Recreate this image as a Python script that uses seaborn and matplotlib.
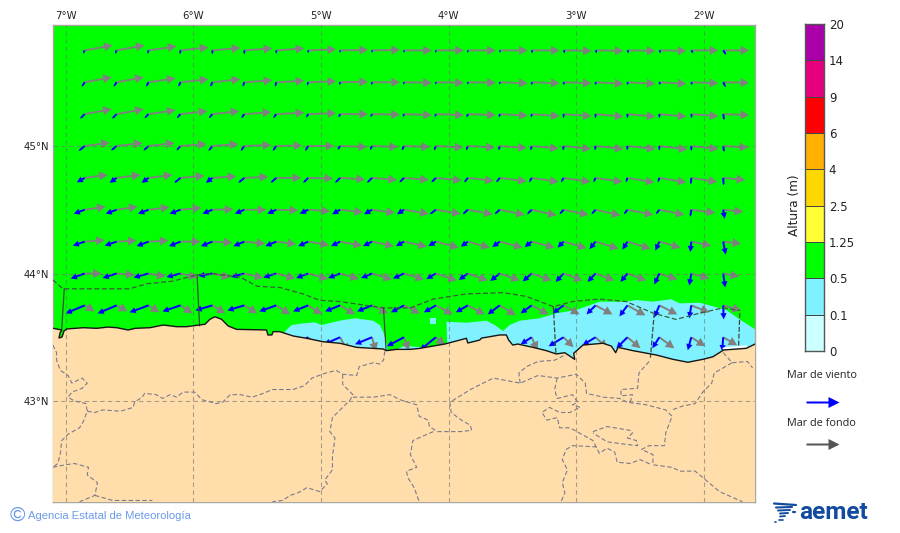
import numpy as np
import pandas as pd
import matplotlib
matplotlib.use('Agg')
import matplotlib.pyplot as plt
from matplotlib.colors import ListedColormap
import seaborn as sns

nan = float('nan')

# grid of the arrows (degrees)
grid_lon = [-6.85, -6.60, -6.35, -6.10, -5.85, -5.60, -5.35, -5.10, -4.85, -4.60, -4.35,
            -4.10, -3.85, -3.60, -3.35, -3.10, -2.85, -2.60, -2.35, -2.10, -1.85]
grid_lat = [45.75, 45.50, 45.25, 45.00, 44.75, 44.50, 44.25, 44.00, 43.75, 43.50]

# mar de fondo, one row per latitude
swell_u = [
    [28, 28, 28, 28, 28, 28, 28, 28, 28, 28, 28, 28, 28, 28, 28, 28, 28, 28, 27, 27, 26],
    [27, 27, 27, 28, 28, 28, 28, 28, 28, 28, 28, 28, 28, 28, 28, 28, 28, 28, 27, 27, 26],
    [27, 27, 27, 27, 27, 27, 28, 28, 28, 28, 28, 28, 28, 28, 28, 28, 28, 28, 27, 27, 26],
    [25, 26, 26, 26, 26, 27, 26, 26, 27, 26, 26, 27.5, 27, 27, 27, 27.5, 28, 28, 28, 27, 25],
    [23, 24, 24, 24, 24, 24, 25, 25, 25, 25, 25, 26, 26, 27, 27, 27, 27, 27, 27, 26, 22],
    [21, 21, 21, 21, 21, 22, 22, 22, 23, 23, 25, 25, 25, 25, 25, 25, 25, 26, 25, 24, 20],
    [20, 20, 20, 20, 20, 21, 20, 21, 22, 22, 23, 23, 22, 23, 23, 23, 23, 23, 21, 20, 18],
    [17, 18, 17, 17, 18, 19, 19, 20, 19, 20, 20, 21, 20, 20, 20, 19, 19, 19, 18, 18, 16],
    [10, 11, 11, 12, 13, 13, 14, 14, 15, 16, 16, 17, 17, 16, 17, 16, 17, 18, 18, 18, 18],
    [nan, nan, nan, nan, nan, nan, nan, 14, 8, 4, 5, 9, nan, nan, 6, 10, 12, 13, 15, 14, 14],
]
swell_v = [
    [5, 5, 4, 3, 2.5, 2, 2, 1, 0.5, 0.5, 0, 0, 0, 0, 0, -0.5, -0.5, -0.5, -0.5, 0, 0],
    [5, 5, 4, 3, 3, 2, 1.5, 1, 0.5, 0, -0.5, -0.5, -0.5, -1, -1, -1, -1.5, -1.5, -1.5, -1, -0.5],
    [5, 5, 4, 3, 3, 2, 1.5, 1, 0, -0.5, -1, -1, -1, -1.5, -2, -2, -2.5, -2.5, -2.5, -2, -1],
    [3.3, 3, 3, 2, 2, 1, 0.5, 0, -1, -1, -1, -1.5, -1.5, -2, -2.5, -3, -3, -3, -3.5, -3, -1.5],
    [3, 3, 3, 2, 1.5, 1, 0, -0.5, -1.5, -2, -2, -2.5, -3, -3.5, -4, -4, -4, -4.5, -4.5, -4, -2],
    [3, 3, 2.5, 2, 0.5, 0, -0.5, -1.5, -2.5, -3, -4, -4, -4.5, -5, -5.5, -5, -5.5, -5, -5, -3, -2],
    [1.5, 1, 1, 0, -1, -2, -2.5, -3.5, -4, -4.5, -5, -6, -6, -6, -6, -6.5, -7, -7, -6, -4, -2],
    [0, -1.5, -3, -4, -4, -4.5, -5, -5.5, -5.5, -6, -6, -7, -7, -7, -7, -7, -7, -7, -6, -5, -3],
    [-6, -6, -7, -8, -8, -8, -9, -9, -9, -8, -8, -9, -9, -10, -9, -9, -9, -10, -9, -7, -5],
    [nan, nan, nan, nan, nan, nan, nan, -13, -15, -14, -13, -8, nan, nan, -13, -10, -11, -11, -11, -9, -8],
]

# mar de viento
wind_u = [
    [-1.7, -1.5, -1, -0.5, 0, 0, 0, 0, 0, 0, 0, -0.3, 0, 0.5, 1, 1.5, 1.5, 1.5, 1.5, 2, 3],
    [-3, -3, -2.5, -2, -2, -1.5, -1, -1, -0.5, -0.5, -0.5, -0.3, 0, 0, 0.3, 0.5, 0.5, 0.5, 1, 1, 2.5],
    [-4.5, -4.5, -4, -3.5, -3.5, -3, -3, -2, -1.5, -1.5, -1, -1, -1, -0.5, -0.5, 0, 0, 0, 0, 0.5, 1],
    [-6, -5.5, -5, -4, -4, -3.5, -3.5, -3, -2.5, -2, -2, -1.7, -1.5, -1, -1, -0.5, -0.5, -0.3, 0, 0, 1],
    [-8, -7, -7, -6, -6.5, -6, -5.5, -5, -5, -5, -4.5, -4.5, -3.5, -3.5, -2.5, -2.5, -2, -1.5, -1.5, -0.5, 0.5],
    [-11, -11, -10.5, -11, -10, -9.5, -9, -8.5, -8, -8, -7, -6, -5, -5, -4.5, -4, -4, -3.5, -3.5, -1, 1.5],
    [-12, -12, -12, -11.5, -11.5, -11, -11, -10, -9, -9, -8, -7.5, -7, -7.5, -7, -6, -6, -5, -4, -1, 2.5],
    [-14, -14, -15, -14, -14, -13, -13, -12, -12, -11, -11, -9.5, -9, -9.5, -9, -8, -8, -7, -5, -2, 2],
    [-19, -19, -19, -18, -17, -17, -17, -15, -15, -15, -13, -12, -12, -12, -11, -11, -9, -8, -5, -2, 0.5],
    [nan, nan, nan, nan, nan, nan, nan, -16, -16, -17, -17, -16, nan, nan, -11, -15, -13, -11, -7, -3.5, -1],
]
wind_v = [
    [-3.3, -3.5, -3.5, -4, -4, -4, -3.5, -3, -2.5, -2.5, -2.5, -2.5, -2.5, -2.5, -3, -3, -3, -3, -3, -3, -4.5],
    [-4.5, -4.5, -4.5, -4.5, -4.5, -4.5, -4.5, -3.5, -3, -3, -2.5, -2.5, -2.5, -2.5, -3, -3, -3, -3, -3, -3, -5],
    [-4.5, -4.5, -4, -4, -4, -4, -4, -3.5, -3.5, -3, -3, -3, -3.5, -3.5, -3.5, -4, -4, -4, -4, -4, -6],
    [-5, -4.5, -4.5, -4.5, -5, -5, -5, -5, -4, -4, -4.5, -4.5, -4.5, -4.5, -4.5, -4.5, -4.5, -4.5, -4.5, -5, -6],
    [-4.5, -5, -5, -5, -5, -5, -5, -5, -5, -5, -4.5, -4.5, -4.5, -4.5, -4.5, -4.5, -4.5, -4.5, -4.5, -6.5, -7.5],
    [-4, -4, -4, -4, -4, -4, -4, -4, -4.5, -4.5, -4.5, -4.5, -4.5, -4.5, -4.5, -4.5, -4.5, -4.5, -4.5, -7, -9],
    [-4, -4, -4.5, -4.5, -4.5, -4.5, -4.5, -4.5, -4.5, -4.5, -4.5, -4.5, -5, -5.5, -5.5, -6, -7.5, -8, -9, -10.5, -13],
    [-5, -4.5, -4, -3.5, -2.5, -3.5, -4, -4.5, -4.5, -4.5, -5, -5.5, -6.5, -7.5, -8, -8.5, -8.5, -8.5, -11, -12, -14],
    [-8, -8, -7, -6, -5, -5, -6, -6, -6, -6, -7, -7, -7, -9, -8, -8, -9, -11, -12, -13, -14],
    [nan, nan, nan, nan, nan, nan, nan, -8, -7, -7, -9, -13, nan, nan, -7, -9, -8, -11, -11, -13, -14],
]

# coast
coast_lon = [-7.095, -7.03, -7.043, -7.051, -7.027, -7.012, -6.991, -6.861, -6.756, -6.667, -6.599, -6.509,
             -6.456, -6.339, -6.235, -6.130, -6.052, -5.908, -5.869, -5.830, -5.778, -5.726, -5.660, -5.426,
             -5.415, -5.384, -5.374, -5.322, -5.217, -5.113, -4.983, -4.852, -4.721, -4.513, -4.487, -4.408,
             -4.304, -4.226, -4.122, -4.030, -3.913, -3.861, -3.850, -3.757, -3.741, -3.704, -3.600, -3.548,
             -3.530, -3.498, -3.459, -3.340, -3.235, -3.157, -3.091, -3.013, -3.021, -2.948, -2.792, -2.726,
             -2.692, -2.674, -2.557, -2.374, -2.244, -2.127, -2.009, -1.931, -1.847, -1.670, -1.600]
coast_lat = [43.570, 43.557, 43.533, 43.494, 43.502, 43.549, 43.565, 43.575, 43.570, 43.580, 43.575, 43.557,
             43.570, 43.575, 43.596, 43.583, 43.583, 43.602, 43.641, 43.661, 43.641, 43.588, 43.562, 43.557,
             43.518, 43.518, 43.544, 43.544, 43.510, 43.492, 43.465, 43.453, 43.421, 43.408, 43.395, 43.405,
             43.405, 43.413, 43.431, 43.447, 43.478, 43.492, 43.455, 43.478, 43.494, 43.500, 43.518, 43.518,
             43.478, 43.439, 43.447, 43.421, 43.395, 43.369, 43.379, 43.327, 43.374, 43.439, 43.453, 43.431,
             43.379, 43.421, 43.395, 43.361, 43.327, 43.304, 43.327, 43.347, 43.400, 43.413, 43.447]

# 0.1 - 0.5 m patches
lobe1_lon = [-5.283, -5.230, -5.139, -5.048, -4.995, -4.852, -4.735, -4.592, -4.539, -4.513, -4.492, -4.476, -5.283]
lobe1_lat = [43.544, 43.596, 43.609, 43.617, 43.596, 43.630, 43.649, 43.630, 43.596, 43.544, 43.478, 43.384, 43.384]
lobe2_lon = [-4.017, -3.861, -3.704, -3.639, -3.574, -3.522, -3.444, -3.287, -3.157, -3.000, -2.818, -2.609,
             -2.530, -2.403, -2.257, -2.192, -2.035, -1.826, -1.722, -1.600, -1.600, -4.007]
lobe2_lat = [43.622, 43.614, 43.630, 43.596, 43.549, 43.596, 43.630, 43.649, 43.688, 43.714, 43.779, 43.779,
             43.792, 43.779, 43.798, 43.766, 43.771, 43.714, 43.641, 43.562, 43.30, 43.322]
sliver_lon = [-4.406, -4.344, -4.226, -4.187, -4.406]
sliver_lat = [43.408, 43.431, 43.424, 43.384, 43.384]
square_lon = [-4.148, -4.096, -4.096, -4.148]
square_lat = [43.649, 43.649, 43.605, 43.605]
white_lon = [-1.847, -1.670]
white_lat = [43.412, 43.428]

# coastal zones
zone_lon = [-7.10, -7.02, -6.50, -6.36, -6.16, -5.97, -5.85, -5.63, -5.50, -5.32, -5.14, -5.01, -4.85, -4.51,
            -4.30, -4.12, -3.86, -3.57, -3.39, -3.18, -3.03, -2.82, -2.61, -2.40, -2.22, -2.03, -1.85, -1.72]
zone_lat = [43.95, 43.88, 43.88, 43.92, 43.94, 43.99, 44.00, 43.97, 43.90, 43.89, 43.84, 43.79, 43.78, 43.73,
            43.73, 43.80, 43.84, 43.85, 43.82, 43.74, 43.78, 43.80, 43.78, 43.69, 43.64, 43.69, 43.73, 43.71]
zone_cuts = [([-7.01, -7.03], [43.88, 43.56], '-'), ([-5.97, -5.95], [43.99, 43.59], '-'),
             ([-4.51, -4.49], [43.73, 43.40], '-'), ([-3.18, -3.16], [43.74, 43.37], '--'),
             ([-2.39, -2.42], [43.69, 43.34], '--'), ([-1.72, -1.73], [43.69, 43.42], '--')]

# inland borders
border_a = ([-7.10, -7.07, -7.07, -7.04, -6.98, -6.95, -6.87, -6.83, -6.87, -6.95, -6.98, -6.93, -6.84, -6.83, -6.86,
             -6.89, -6.98, -7.03, -7.04, -7.06, -7.10],
            [43.44, 43.38, 43.32, 43.24, 43.20, 43.14, 43.18, 43.14, 43.10, 43.07, 43.03, 43.00, 42.98, 42.92, 42.84,
             42.79, 42.74, 42.69, 42.59, 42.51, 42.48])
border_b = ([-6.83, -6.77, -6.71, -6.57, -6.47, -6.46, -6.40, -6.38, -6.29, -6.24, -6.18, -6.13, -6.08, -5.99, -5.93,
             -5.82, -5.77, -5.71, -5.63, -5.54, -5.45, -5.38, -5.22, -5.13, -5.07, -4.96, -4.88, -4.83, -4.72, -4.70,
             -4.59, -4.54, -4.51, -4.50],
            [42.92, 42.91, 42.93, 42.92, 42.95, 42.99, 43.03, 43.06, 43.05, 43.02, 43.05, 43.03, 43.07, 43.07, 43.01,
             42.98, 42.99, 43.05, 43.05, 43.03, 43.06, 43.09, 43.09, 43.12, 43.18, 43.22, 43.24, 43.21, 43.20, 43.27,
             43.30, 43.29, 43.32, 43.39])
border_c = ([-4.83, -4.83, -4.75, -4.77, -4.83, -4.91, -4.93, -4.89, -4.91, -4.91, -4.97, -4.95, -5.01, -5.11, -5.18,
             -5.24, -5.30, -5.38],
            [43.21, 43.13, 43.05, 43.01, 42.95, 42.87, 42.76, 42.71, 42.56, 42.46, 42.38, 42.35, 42.29, 42.32, 42.28,
             42.26, 42.22, 42.21])
border_d = ([-4.75, -4.59, -4.46, -4.38, -4.25, -4.23, -4.16, -4.15, -4.09, -4.01, -3.91, -3.82, -3.83, -3.90, -3.98,
             -3.99, -3.83, -3.65, -3.44, -3.30, -3.15, -3.00, -2.93, -2.92, -2.79, -2.66, -2.60, -2.45, -2.30, -2.25,
             -2.30, -2.31, -2.43, -2.49, -2.40, -2.40, -2.25, -2.19, -2.07, -2.01, -1.88, -1.70],
            [43.03, 43.03, 43.05, 43.01, 42.97, 42.88, 42.85, 42.80, 42.76, 42.76, 42.76, 42.77, 42.81, 42.85, 42.91,
             42.99, 43.09, 43.18, 43.14, 43.20, 43.18, 43.21, 43.14, 43.06, 43.03, 43.02, 42.99, 42.97, 42.93, 42.88,
             42.75, 42.65, 42.65, 42.62, 42.58, 42.50, 42.48, 42.45, 42.45, 42.40, 42.29, 42.21])
border_e = ([-4.12, -4.28, -4.30, -4.25, -4.33, -4.32, -4.27, -4.23],
            [42.76, 42.69, 42.58, 42.48, 42.45, 42.40, 42.32, 42.21])
border_f = ([-3.44, -3.45, -3.39, -3.30, -3.17, -3.09],
            [43.14, 43.22, 43.27, 43.31, 43.32, 43.36])
border_g = ([-3.15, -3.17, -3.15, -3.03, -2.99, -3.03, -2.97, -3.05, -3.13, -3.21, -3.27, -3.23, -3.15, -3.13, -3.05,
             -2.87, -2.84, -2.82, -2.76, -2.70, -2.68, -2.58, -2.50, -2.41],
            [43.18, 43.09, 43.02, 43.05, 42.99, 42.97, 42.95, 42.91, 42.91, 42.95, 42.91, 42.85, 42.87, 42.79, 42.79,
             42.69, 42.63, 42.59, 42.63, 42.60, 42.52, 42.51, 42.54, 42.50])
border_h = ([-2.84, -3.03, -3.08, -3.11, -3.07, -3.11, -3.09, -3.12],
            [42.64, 42.65, 42.62, 42.54, 42.46, 42.36, 42.28, 42.21])
border_i = ([-2.87, -2.76, -2.58, -2.56, -2.60, -2.53, -2.52, -2.61, -2.76, -2.87],
            [42.76, 42.80, 42.77, 42.75, 42.71, 42.69, 42.65, 42.66, 42.68, 42.75])
border_j = ([-2.43, -2.51, -2.52, -2.65, -2.65, -2.56, -2.58],
            [43.31, 43.22, 43.10, 43.09, 43.04, 43.05, 42.99])
border_k = ([-1.85, -1.78, -1.92, -1.94, -2.01, -2.07, -2.17, -2.25],
            [43.38, 43.30, 43.22, 43.14, 43.07, 42.98, 42.96, 42.93])
border_l = ([-1.78, -1.66, -1.62], [43.30, 43.31, 43.26])
border_n = ([-7.10, -7.00, -6.93, -6.82, -6.83, -6.75, -6.77, -6.89],
            [42.48, 42.50, 42.51, 42.48, 42.42, 42.36, 42.26, 42.21])
border_o = ([-6.77, -6.63, -6.32], [42.26, 42.22, 42.22])
borders = [border_a, border_b, border_c, border_d, border_e, border_f, border_g, border_h,
           border_i, border_j, border_k, border_l, border_n, border_o]

# colour scale
level_labels = ['20', '14', '9', '6', '4', '2.5', '1.25', '0.5', '0.1', '0']
level_colors = ['#AA00AA', '#E6007E', '#FF0000', '#FFB000', '#FFD700', '#FFFF33', '#00FF00', '#80F2FF', '#CCFFFF']
lon_ticks = [-7, -6, -5, -4, -3, -2]
lon_labels = ['7°W', '6°W', '5°W', '4°W', '3°W', '2°W']
lat_ticks = [43, 44, 45]
lat_labels = ['43°N', '44°N', '45°N']

sns.set_theme(style='white')
plt.rcParams['font.family'] = ['DejaVu Sans']
W, H = 900, 533
fig = plt.figure(figsize=(9, 5.33), dpi=100, facecolor='white')

ax = fig.add_axes([53 / W, (H - 502) / H, 702 / W, 477 / H])
ax.set_facecolor(level_colors[6])

ax.fill(lobe1_lon, lobe1_lat, color=level_colors[7], lw=0, zorder=1)
ax.fill(lobe2_lon, lobe2_lat, color=level_colors[7], lw=0, zorder=1)
ax.fill(sliver_lon, sliver_lat, color=level_colors[7], lw=0, zorder=1)
ax.fill(square_lon, square_lat, color=level_colors[7], lw=0, zorder=1)

xx, yy = np.meshgrid(grid_lon, grid_lat)
wu = np.ma.masked_invalid(wind_u)
wv = np.ma.masked_invalid(wind_v)
short = np.hypot(wu, wv) < 8
base = dict(angles='uv', scale_units='dots', scale=1, units='dots', pivot='tail', minlength=0, zorder=3)
ax.quiver(xx, yy, np.ma.masked_invalid(swell_u), np.ma.masked_invalid(swell_v), color='#808080', width=1.9,
          headwidth=4.8, headlength=4.5, headaxislength=4.5, **base)
# the small ones have no visible head
ax.quiver(xx, yy, np.ma.masked_where(short, wu), np.ma.masked_where(short, wv), color='#0000FF', width=2.0,
          headwidth=3.1, headlength=3.1, headaxislength=3.1, **base)
ax.quiver(xx, yy, np.ma.masked_where(~short, wu), np.ma.masked_where(~short, wv), color='#0000FF', width=2.0,
          headwidth=1, headlength=1, headaxislength=1, **base)

# land goes over the arrows
land_lon = coast_lon + [-1.60, -7.10, -7.10]
land_lat = coast_lat + [42.20, 42.20, coast_lat[0]]
ax.fill(land_lon, land_lat, color='#FFDEAB', lw=0, zorder=4)
ax.plot(white_lon, white_lat, color='white', lw=1.6, zorder=4)

for lon, lat in borders:
    sns.lineplot(x=lon, y=lat, sort=False, estimator=None, color='#7C7A8C', lw=0.8,
                 linestyle=(0, (4, 2.2)), ax=ax, legend=False, zorder=5)

sns.lineplot(x=coast_lon, y=coast_lat, sort=False, estimator=None, color='#151515', lw=1.0, ax=ax,
             legend=False, zorder=6)
sns.lineplot(x=zone_lon, y=zone_lat, sort=False, estimator=None, color='#3c5a3c', lw=0.9,
             linestyle=(0, (4, 2)), ax=ax, legend=False, zorder=5)
for lon, lat, ls in zone_cuts:
    sns.lineplot(x=lon, y=lat, sort=False, estimator=None, color='#3a4a3a', lw=0.9,
                 linestyle=ls if ls == '-' else (0, (4, 1.5)), ax=ax, legend=False, zorder=5)

ax.set_xlim(-7.098, -1.601)
ax.set_ylim(42.208, 45.949)
ax.set_xlabel('')
ax.set_ylabel('')
ax.xaxis.tick_top()
ax.set_xticks(lon_ticks, lon_labels)
ax.set_yticks(lat_ticks, lat_labels)
ax.tick_params(length=0, pad=3, labelsize=7.3, colors='#222222')
ax.grid(True, color='#707070', alpha=0.6, lw=0.8, linestyle=(0, (4, 3)))
# grid shows over the land too
ax.xaxis.set_zorder(4.5)
ax.yaxis.set_zorder(4.5)
for s in ax.spines.values():
    s.set_color('#a8a8a0')
    s.set_linewidth(1)

# colour scale as a one column heatmap
cax = fig.add_axes([805 / W, (H - 351) / H, 19 / W, 327 / H])
cells = pd.DataFrame(np.arange(len(level_colors)).reshape(-1, 1))
sns.heatmap(cells, cmap=ListedColormap(level_colors), cbar=False, linewidths=0.7, linecolor='#444444',
            xticklabels=False, ax=cax)
cax.set_yticks(np.arange(len(level_labels)))
cax.set_yticklabels(level_labels, rotation=0)
cax.yaxis.tick_right()
cax.tick_params(axis='y', length=0, pad=3.5, labelsize=8.5, colors='#222222')
cax.set_xlabel('')
cax.set_ylabel('')
for s in cax.spines.values():
    s.set_visible(True)
    s.set_color('#555555')
    s.set_linewidth(1)

# pixel overlay for the legend and the footer
over = fig.add_axes([0, 0, 1, 1], zorder=10)
over.set_xlim(0, W)
over.set_ylim(H, 0)
over.axis('off')
over.patch.set_alpha(0)

over.text(794.5, 205.5, 'Altura (m)', rotation=90, ha='center', va='center', fontsize=8.7, color='#222222')
over.text(822, 375.5, 'Mar de viento', ha='center', va='center', fontsize=7.8, color='#222222',
          family='Open Sans')
over.text(821, 423, 'Mar de fondo', ha='center', va='center', fontsize=7.8, color='#222222',
          family='Open Sans')
lkw = dict(angles='uv', scale_units='dots', scale=1, units='dots', width=2, headwidth=5.5,
           headlength=5.5, headaxislength=5.5)
over.quiver([806], [401.5], [33], [0], color='#0000FF', **lkw)
over.quiver([806], [443.5], [33], [0], color='#555555', **lkw)

over.text(17, 515.5, '©', ha='center', va='center', fontsize=15, color='#6A9AE8', family='Liberation Sans')
over.text(27.5, 516, 'Agencia Estatal de Meteorología', ha='left', va='center', fontsize=8.1,
          color='#6A9AE8', family='Liberation Sans')

# aemet mark
logo = '#114A9E'
over.text(799, 512.5, 'aemet', ha='left', va='center', fontsize=17.6, fontweight='bold', color=logo,
          family='Roboto')
for x0, x1, y0, y1, lw in [(774, 796, 503.5, 505, 1.6), (776, 792, 507.5, 507, 1.5), (778, 790, 510.5, 510, 1.4),
                           (780, 788, 513.5, 513, 1.4), (780, 785, 516.5, 516, 1.3), (779, 783, 519.5, 519.5, 1.2)]:
    over.plot([x0, x1], [y0, y1], color=logo, lw=lw, solid_capstyle='round')
over.plot([793, 795], [512, 512], color=logo, lw=1.6)
over.plot([775, 776], [522, 522], color=logo, lw=1.2)

fig.savefig('out.png', dpi=100)
